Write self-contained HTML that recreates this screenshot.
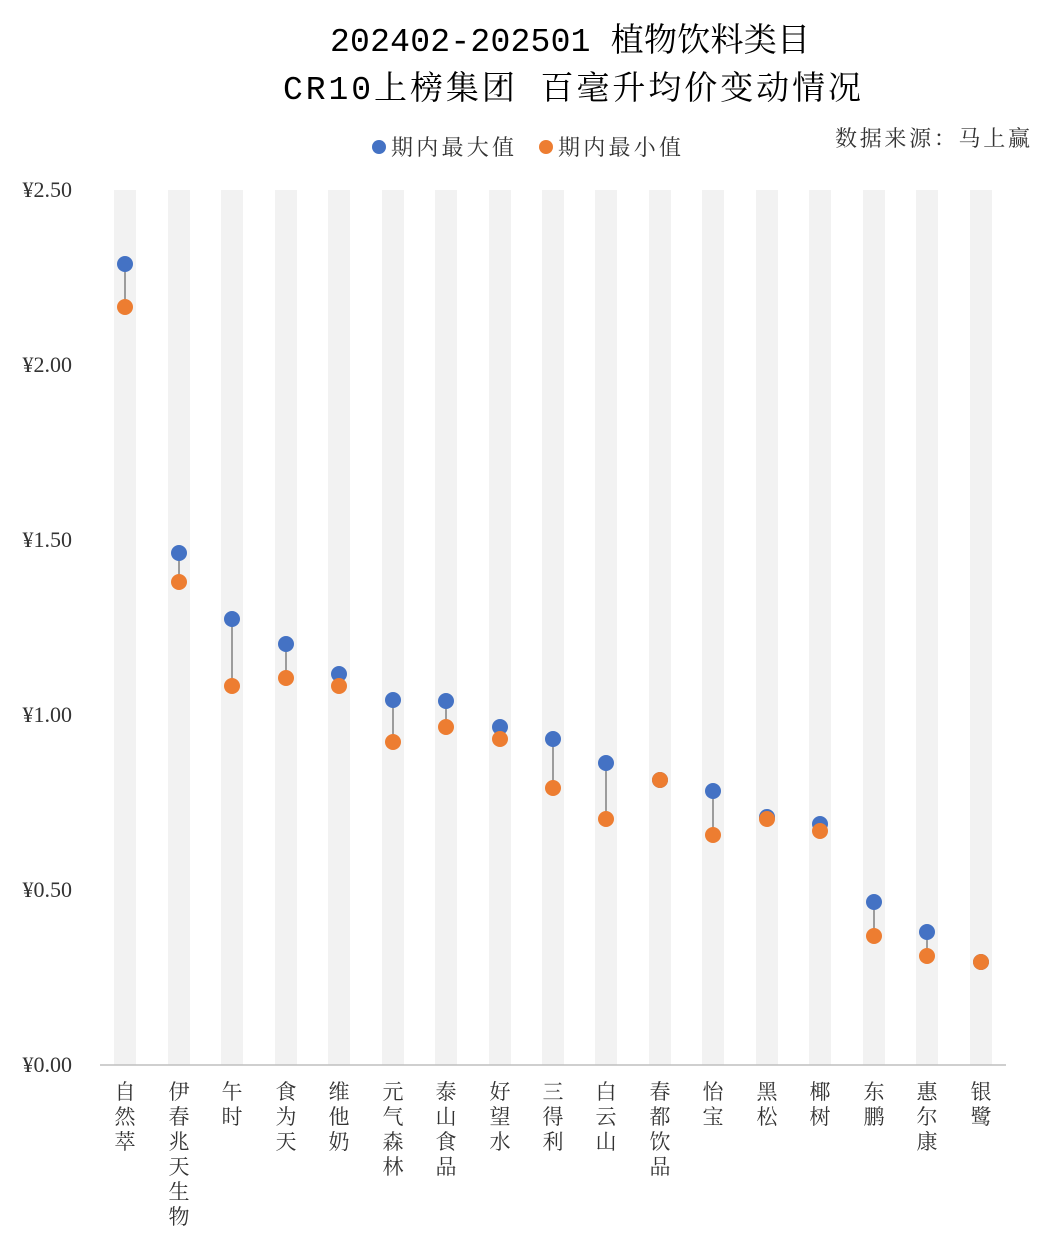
<!DOCTYPE html>
<html><head><meta charset="utf-8"><style>
body{margin:0;background:#fff}
text{font-family:"Liberation Serif","Noto Serif CJK SC",serif}
</style></head><body>
<svg width="1048" height="1243" xmlns="http://www.w3.org/2000/svg">
<rect width="1048" height="1243" fill="#fff"/>
<text x="570" y="51" text-anchor="middle" font-size="33" fill="#000" style="font-family:'Liberation Mono','Noto Serif CJK SC',monospace" textLength="480">202402-202501 植物饮料类目</text>
<text x="572" y="99" text-anchor="middle" font-size="33" fill="#000" style="font-family:'Liberation Mono','Noto Serif CJK SC',monospace" textLength="578">CR10上榜集团 百毫升均价变动情况</text>
<circle cx="379" cy="147" r="7" fill="#4472c4"/>
<text x="391" y="155" font-size="22" fill="#333" textLength="123">期内最大值</text>
<circle cx="546" cy="147" r="7" fill="#ed7d31"/>
<text x="558" y="155" font-size="22" fill="#333" textLength="123">期内最小值</text>
<text x="1030" y="146" text-anchor="end" font-size="22" fill="#333" textLength="195">数据来源：马上赢</text>
<g font-size="22" fill="#333" text-anchor="end">
<text x="72" y="197">¥2.50</text>
<text x="72" y="372">¥2.00</text>
<text x="72" y="547">¥1.50</text>
<text x="72" y="722">¥1.00</text>
<text x="72" y="897">¥0.50</text>
<text x="72" y="1072">¥0.00</text>
</g>
<g id="bars"></g>
<line x1="100" y1="1065" x2="1006" y2="1065" stroke="#bfbfbf" stroke-width="1.5"/>
<g id="pts"></g>
<g id="labs" font-size="21" fill="#333" text-anchor="middle"></g>
</svg>
<script>
var xs=[125,179,232,286,339,393,446,500,553,606,660,713,767,820,874,927,981];
var mx=[264,553,619,644,674,700,701,727,739,763,780,791,817,824,902,932,962];
var mn=[307,582,686,678,686,742,727,739,788,819,780,835,819,831,936,956,962];
var nm=["自然萃","伊春兆天生物","午时","食为天","维他奶","元气森林","泰山食品","好望水","三得利","白云山","春都饮品","怡宝","黑松","椰树","东鹏","惠尔康","银鹭"];
var ns="http://www.w3.org/2000/svg";
function el(p,t,a){var e=document.createElementNS(ns,t);for(var k in a)e.setAttribute(k,a[k]);document.getElementById(p).appendChild(e);return e;}
for(var i=0;i<xs.length;i++){
el("bars","rect",{x:xs[i]-11,y:190,width:22,height:875,fill:"#f2f2f2"});
el("pts","line",{x1:xs[i],y1:mx[i],x2:xs[i],y2:mn[i],stroke:"#7f7f7f","stroke-width":1.5});
el("pts","circle",{cx:xs[i],cy:mx[i],r:8,fill:"#4472c4"});
el("pts","circle",{cx:xs[i],cy:mn[i],r:8,fill:"#ed7d31"});
for(var j=0;j<nm[i].length;j++){var t=el("labs","text",{x:xs[i],y:1099+j*25});t.textContent=nm[i][j];}
}
</script>
</body></html>
